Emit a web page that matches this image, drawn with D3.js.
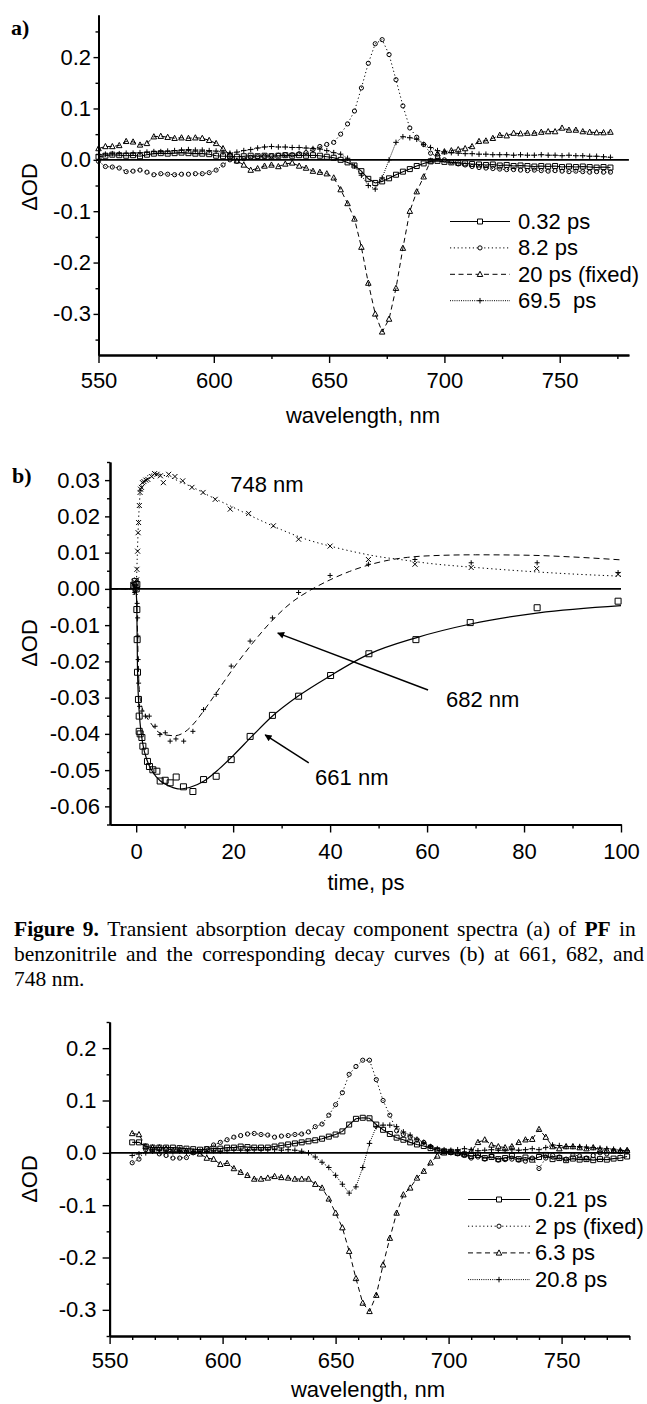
<!DOCTYPE html>
<html><head><meta charset="utf-8">
<script src="https://cdn.jsdelivr.net/npm/d3@7"></script>
<style>
body{margin:0;background:#fff}
svg{display:block;background:#fff}
</style></head><body>
<svg id="fig" width="647" height="1404"></svg>
<script>
// ---------- Panel a: decay-associated spectra of PF in benzonitrile ----------
const wlA = [550,553,556,559,562,565,568,571,574,577,
             580,583,586,589,592,595,598,601,604,607,
             610,613,616,619,622,625,628,631,634,637,
             640,643,646,649,652,655,658,661,664,667,
             670,673,676,679,682,685,688,691,694,697,
             700,703,706,709,712,715,718,721,724,727,
             730,733,736,739,742,745,748,751,754,757,
             760,763,766,769,772];
const a032 = [0.006,0.008,0.010,0.009,0.008,0.009,0.007,0.010,0.012,0.013,
              0.012,0.013,0.014,0.013,0.012,0.012,0.011,0.008,0.007,0.007,
              0.006,0.007,0.008,0.007,0.008,0.007,0.008,0.009,0.008,0.009,
              0.008,0.009,0.008,0.006,0.004,0.000,-0.005,-0.011,-0.022,-0.037,
              -0.045,-0.042,-0.036,-0.029,-0.023,-0.018,-0.012,-0.007,-0.003,-0.002,
              -0.004,-0.005,-0.006,-0.007,-0.008,-0.009,-0.010,-0.009,-0.011,-0.010,
              -0.012,-0.011,-0.012,-0.013,-0.012,-0.013,-0.012,-0.014,-0.013,-0.014,
              -0.013,-0.014,-0.015,-0.014,-0.015];
const a82 = [-0.003,-0.013,-0.014,-0.016,-0.023,-0.022,-0.020,-0.024,-0.029,-0.027,
             -0.028,-0.029,-0.028,-0.028,-0.027,-0.027,-0.025,-0.020,-0.010,0.000,
             -0.003,0.002,0.005,0.006,0.007,0.008,0.009,0.010,0.010,0.012,
             0.014,0.020,0.026,0.030,0.034,0.050,0.070,0.095,0.140,0.188,
             0.226,0.234,0.205,0.156,0.105,0.062,0.044,0.030,0.013,0.006,
             0.000,-0.004,-0.008,-0.010,-0.013,-0.015,-0.016,-0.017,-0.018,-0.019,
             -0.019,-0.020,-0.021,-0.020,-0.021,-0.022,-0.021,-0.022,-0.023,-0.022,
             -0.023,-0.024,-0.023,-0.024,-0.024];
const a20 = [0.022,0.026,0.026,0.028,0.036,0.035,0.029,0.032,0.045,0.046,
             0.044,0.042,0.043,0.042,0.043,0.042,0.038,0.032,0.022,0.010,
             -0.002,-0.010,-0.020,-0.017,-0.012,-0.010,-0.013,-0.008,-0.006,-0.012,
             -0.016,-0.022,-0.024,-0.027,-0.035,-0.058,-0.085,-0.115,-0.170,-0.240,
             -0.300,-0.335,-0.310,-0.250,-0.172,-0.100,-0.062,-0.033,-0.002,0.012,
             0.016,0.018,0.020,0.022,0.026,0.036,0.037,0.042,0.048,0.047,
             0.052,0.051,0.052,0.052,0.054,0.055,0.055,0.062,0.058,0.058,
             0.055,0.054,0.053,0.053,0.054];
const a695 = [0.010,0.011,0.012,0.012,0.013,0.013,0.014,0.015,0.016,0.016,
              0.017,0.018,0.019,0.020,0.019,0.019,0.018,0.017,0.015,0.013,
              0.015,0.018,0.020,0.023,0.025,0.026,0.025,0.025,0.024,0.024,
              0.023,0.022,0.021,0.018,0.014,0.011,0.003,-0.012,-0.030,-0.050,
              -0.057,-0.035,0.000,0.034,0.045,0.043,0.040,0.030,0.024,0.018,
              0.015,0.014,0.013,0.012,0.012,0.011,0.011,0.010,0.010,0.010,
              0.009,0.010,0.009,0.009,0.010,0.009,0.009,0.008,0.009,0.008,
              0.008,0.007,0.007,0.006,0.005];
const legendA = ["0.32 ps", "8.2 ps", "20 ps (fixed)", "69.5  ps"];

// ---------- Panel b: kinetic traces (points) and fits (lines) ----------
const pts661 = [[-0.5,0.001],[-0.2,0.002],[0,0.000],[0.14,0.0012],[0.14,-0.0057],[0.2,-0.014],
  [0.27,-0.023],[0.47,-0.0305],[0.62,-0.0351],[0.62,-0.0393],[0.82,-0.040],[1.18,-0.041],
  [1.38,-0.0434],[1.86,-0.0448],[2.33,-0.0476],[2.74,-0.049],[3.44,-0.0499],[4.27,-0.0503],
  [4.95,-0.053],[5.98,-0.0528],[7.0,-0.0535],[8.25,-0.0519],[9.75,-0.0546],[11.7,-0.0559],
  [13.9,-0.0526],[16.5,-0.0517],[19.6,-0.0471],[23.5,-0.0407],[28.1,-0.0349],[33.5,-0.0296],
  [40.1,-0.0239],[48.0,-0.0179],[57.7,-0.014],[68.9,-0.0093],[82.7,-0.0052],[99.4,-0.0034]];
const fit661 = [[-5,0],[-0.3,0],[0,-0.001],[0.14,-0.006],[0.27,-0.022],[0.5,-0.031],[0.8,-0.037],
  [1.4,-0.043],[2.3,-0.0475],[3.4,-0.0505],[5,-0.053],[7,-0.0545],[9,-0.0552],[11,-0.0548],
  [14,-0.053],[17,-0.0498],[20,-0.046],[24,-0.0405],[28,-0.0352],[33.5,-0.0295],[40,-0.024],
  [48,-0.018],[57.7,-0.0135],[69,-0.0097],[83,-0.0066],[100,-0.0046]];
const pts682 = [[-0.5,0.001],[-0.3,-0.001],[0,0.000],[0.2,-0.004],[0.3,-0.008],[0.35,-0.013],
  [0.4,-0.0195],[0.5,-0.026],[0.7,-0.0324],[1.2,-0.0337],[1.9,-0.0351],[2.7,-0.0351],
  [3.9,-0.0379],[4.9,-0.0402],[6.0,-0.0397],[7.0,-0.042],[8.2,-0.0414],[9.8,-0.042],
  [11.7,-0.0393],[13.9,-0.0333],[16.5,-0.0291],[19.6,-0.0213],[23.5,-0.0144],[28.1,-0.008],
  [33.5,-0.001],[40,0.0037],[47.9,0.0068],[57.5,0.0081],[69.1,0.0072],[82.7,0.0072],[99.4,0.0045]];
const fit682 = [[-5,0],[-0.3,0],[0,-0.001],[0.2,-0.008],[0.4,-0.019],[0.6,-0.027],[1,-0.0315],
  [2,-0.035],[3,-0.037],[4,-0.0388],[6,-0.0403],[8,-0.0405],[10,-0.0395],[12,-0.037],
  [14,-0.0335],[16,-0.0297],[18,-0.0258],[20,-0.022],[24,-0.015],[28,-0.0088],[32,-0.0038],
  [36,-0.0003],[40,0.0025],[44,0.0048],[48,0.0066],[52,0.0079],[56,0.0087],[60,0.0091],
  [70,0.0094],[80,0.0093],[90,0.0088],[100,0.008]];
const pts748 = [[-0.6,0.001],[-0.4,0.002],[-0.2,-0.001],[0,0.0005],[0.1,0.0025],[0.15,0.0054],
  [0.3,0.0104],[0.4,0.0155],[0.5,0.0183],[0.65,0.023],[0.8,0.0266],[0.9,0.0275],[1.1,0.028],
  [1.3,0.0293],[1.6,0.0296],[2.0,0.030],[2.4,0.0302],[3.2,0.031],[3.8,0.0318],[4.3,0.0316],
  [5.0,0.0312],[5.6,0.0293],[6.7,0.0316],[8.0,0.031],[9.6,0.0298],[11.5,0.028],[13.8,0.0266],
  [16.3,0.0247],[19.4,0.022],[23.2,0.0208],[28.3,0.0174],[33.5,0.0137],[40,0.0118],
  [47.9,0.0081],[57.5,0.0068],[69.1,0.0059],[82.6,0.0056],[99.4,0.004]];
const fit748 = [[-5,0],[-0.5,0],[0,0.001],[0.2,0.008],[0.4,0.016],[0.6,0.022],[0.8,0.026],
  [1.2,0.029],[2,0.0308],[3,0.0316],[4,0.0318],[6,0.0312],[8,0.0302],[10,0.029],[12,0.0278],
  [15,0.0257],[20,0.0225],[25,0.0193],[30,0.0163],[35,0.0137],[40,0.0118],[45,0.0102],
  [50,0.0089],[55,0.008],[60,0.0071],[70,0.0059],[80,0.0049],[90,0.0041],[100,0.0035]];
// annotation anchors in data units: [text position, arrow tail, arrow head]
const labelsB = [
  {text:"748 nm", at:[19.4,0.0266]},
  {text:"682 nm", at:[63.9,-0.0326], tail:[60.2,-0.0279], head:[29.2,-0.0122]},
  {text:"661 nm", at:[36.9,-0.0542], tail:[35.6,-0.048], head:[26.6,-0.0403]}
];

// ---------- Panel c: decay-associated spectra, second data set ----------
const wlC = [560,563,566,569,572,575,578,581,584,587,
             590,593,596,599,602,605,608,611,614,617,
             620,623,626,629,632,635,638,641,644,647,
             650,653,656,659,662,665,668,671,674,677,
             680,683,686,689,692,695,698,701,704,707,
             710,713,716,719,722,725,728,731,734,737,
             740,743,746,749,752,755,758,761,764,767,
             770,773,776,779];
const c021 = [0.020,0.020,0.012,0.010,0.010,0.010,0.010,0.009,0.008,0.007,
              0.006,0.007,0.008,0.008,0.010,0.010,0.012,0.011,0.010,0.010,
              0.010,0.012,0.014,0.016,0.018,0.020,0.022,0.024,0.027,0.031,
              0.035,0.041,0.054,0.065,0.067,0.066,0.054,0.044,0.036,0.029,
              0.025,0.020,0.016,0.013,0.009,0.005,0.003,0.002,0.000,-0.003,
              -0.006,-0.004,-0.010,-0.008,-0.012,-0.010,-0.006,-0.012,-0.009,-0.013,
              -0.008,-0.004,-0.012,-0.010,-0.014,-0.011,-0.013,-0.012,-0.014,-0.012,
              -0.013,-0.011,-0.010,-0.007];
const c2 = [-0.019,-0.012,0.006,0.004,-0.002,-0.005,-0.010,-0.010,-0.009,0.000,
            0.003,0.008,0.015,0.020,0.025,0.030,0.033,0.036,0.037,0.035,
            0.034,0.030,0.032,0.033,0.035,0.036,0.040,0.050,0.055,0.072,
            0.092,0.115,0.150,0.165,0.177,0.177,0.140,0.100,0.072,0.042,
            0.035,0.030,0.025,0.020,0.012,0.005,0.002,0.000,-0.002,-0.005,
            -0.010,-0.008,-0.012,-0.006,-0.014,-0.013,-0.012,-0.014,-0.016,-0.010,
            -0.030,-0.010,-0.005,-0.008,-0.012,-0.004,-0.006,-0.010,-0.005,0.000,
            -0.002,0.004,0.002,0.003];
const c63 = [0.037,0.035,0.012,0.010,0.010,0.008,0.005,0.006,0.004,0.002,
             -0.002,-0.010,-0.012,-0.022,-0.020,-0.030,-0.037,-0.043,-0.050,-0.050,
             -0.048,-0.045,-0.047,-0.048,-0.050,-0.050,-0.050,-0.060,-0.067,-0.088,
             -0.115,-0.143,-0.188,-0.240,-0.287,-0.303,-0.272,-0.214,-0.163,-0.115,
             -0.080,-0.067,-0.048,-0.035,-0.019,-0.006,0.000,0.002,0.000,-0.002,
             0.003,0.020,0.025,0.015,0.012,0.010,0.012,0.020,0.025,0.026,
             0.045,0.030,0.012,0.008,0.012,0.012,0.010,0.008,0.010,0.006,
             0.005,0.004,0.004,0.005];
const c208 = [-0.005,-0.002,0.000,0.003,0.004,0.003,0.002,0.003,0.001,0.002,
              0.003,0.002,0.004,0.003,0.004,0.005,0.005,0.004,0.006,0.005,
              0.006,0.006,0.005,0.006,0.005,0.003,0.000,-0.008,-0.018,-0.028,
              -0.043,-0.060,-0.077,-0.065,-0.028,0.018,0.050,0.053,0.053,0.050,
              0.040,0.034,0.026,0.020,0.012,0.008,0.006,0.005,0.006,0.008,
              0.006,0.004,0.005,0.006,0.005,0.004,0.006,0.005,0.006,0.008,
              0.006,0.010,0.015,0.014,0.012,0.012,0.012,0.011,0.010,0.009,
              0.008,0.007,0.005,0.004];
const legendC = ["0.21 ps", "2 ps (fixed)", "6.3 ps", "20.8 ps"];

// tick values
const wlMajor = [550,600,650,700,750];
const wlMinorA = [575,625,675,725,775];
const wlMinorC = [560,570,580,590,610,620,630,640,660,670,680,690,710,720,730,740,760,770,780];
const odMajor = [-0.3,-0.2,-0.1,0.0,0.1,0.2];
const odMinorA = [-0.35,-0.25,-0.15,-0.05,0.05,0.15,0.25];
const odMinorC = [-0.35,-0.25,-0.15,-0.05,0.05,0.15,0.25];
const tMajor = [0,20,40,60,80,100];
const tMinor = [10,30,50,70,90];
const bMajor = [-0.06,-0.05,-0.04,-0.03,-0.02,-0.01,0.00,0.01,0.02,0.03];
const bMinor = [-0.065,-0.055,-0.045,-0.035,-0.025,-0.015,-0.005,0.005,0.015,0.025,0.035];

const caption = [
  [{t:"Figure",b:1},{t:"9.",b:1},{t:""},{t:"Transient"},{t:"absorption"},{t:"decay"},{t:"component"},
   {t:"spectra"},{t:"(a)"},{t:"of"},{t:"PF",b:1},{t:"in"}],
  [{t:"benzonitrile"},{t:"and"},{t:"the"},{t:"corresponding"},{t:"decay"},{t:"curves"},{t:"(b)"},
   {t:"at"},{t:"661,"},{t:"682,"},{t:"and"}],
  [{t:"748"},{t:"nm."}]
];

// ---------- drawing ----------
const SANS = "'Liberation Sans', Arial, Helvetica, sans-serif";
const SERIF = "'Liberation Serif', 'Times New Roman', serif";
const svg = d3.select("#fig");

const fmt = dp => d => (Math.abs(d) < 1e-9 ? (0).toFixed(dp) : (d < 0 ? "-" : "") + Math.abs(d).toFixed(dp));

function markerPath(type, size) {
  const s = size / 2;
  switch (type) {
    case "square": return `M${-s},${-s}h${size}v${size}h${-size}Z`;
    case "circle": return `M${s},0A${s},${s} 0 1,1 ${-s},0A${s},${s} 0 1,1 ${s},0Z`;
    case "triangle": return `M0,${-s * 1.1}L${s},${s * 0.8}L${-s},${s * 0.8}Z`;
    case "plus": return `M${-s},0H${s}M0,${-s}V${s}`;
    case "x": return `M${-s},${-s}L${s},${s}M${-s},${s}L${s},${-s}`;
  }
}

function drawAxes(g, x, y, o) {
  const yb = y.range()[0];
  const xl = x.range()[0];
  const styleAxis = sel => {
    sel.select(".domain").attr("stroke", "#000").attr("stroke-width", 2);
    sel.selectAll(".tick line").attr("stroke", "#000").attr("stroke-width", 1.4);
    sel.selectAll("text").attr("fill", "#000");
    sel.attr("font-family", SANS).attr("font-size", o.fs);
  };
  g.append("g").attr("transform", `translate(0,${yb})`)
    .call(d3.axisBottom(x).tickValues(o.xMinor).tickSize(4).tickSizeOuter(0).tickFormat(""))
    .call(styleAxis);
  g.append("g").attr("transform", `translate(0,${yb})`)
    .call(d3.axisBottom(x).tickValues(o.xMajor).tickSize(8).tickPadding(o.xPad).tickSizeOuter(0).tickFormat(d => d))
    .call(styleAxis);
  g.append("g").attr("transform", `translate(${xl},0)`)
    .call(d3.axisLeft(y).tickValues(o.yMinor).tickSize(3).tickSizeOuter(0).tickFormat(""))
    .call(styleAxis);
  g.append("g").attr("transform", `translate(${xl},0)`)
    .call(d3.axisLeft(y).tickValues(o.yMajor).tickSize(o.yTick).tickPadding(o.yPad).tickSizeOuter(0).tickFormat(fmt(o.dp)))
    .call(styleAxis);
  // zero reference line
  g.append("line").attr("x1", xl).attr("x2", x.range()[1])
    .attr("y1", y(0)).attr("y2", y(0)).attr("stroke", "#000").attr("stroke-width", 1.6);
  // axis titles
  g.append("text").attr("x", o.xTitle[0]).attr("y", o.xTitle[1]).attr("text-anchor", "middle")
    .attr("font-family", SANS).attr("font-size", o.fs).text(o.xLabel);
  g.append("text").attr("transform", `translate(${o.yTitle[0]},${o.yTitle[1]}) rotate(-90)`)
    .attr("text-anchor", "middle").attr("font-family", SANS).attr("font-size", o.fs).text("ΔOD");
}

function drawSeries(g, x, y, pts, s, curve) {
  g.append("path").datum(pts)
    .attr("d", d3.line().x(d => x(d[0])).y(d => y(d[1])).curve(curve || d3.curveLinear))
    .attr("fill", "none").attr("stroke", "#000").attr("stroke-width", s.lw || 1)
    .attr("stroke-dasharray", s.dash || null);
}
function drawMarkers(g, x, y, pts, type, size) {
  g.append("g").selectAll("path").data(pts).join("path")
    .attr("transform", d => `translate(${x(d[0])},${y(d[1])})`)
    .attr("d", markerPath(type, size))
    .attr("fill", "none").attr("stroke", "#000").attr("stroke-width", 1);
}
function drawLegend(g, items, styles, o) {
  items.forEach((label, i) => {
    const by = o.y0 + i * o.dy;
    const ly = by - 7.5;
    g.append("line").attr("x1", o.x1).attr("x2", o.x2).attr("y1", ly).attr("y2", ly)
      .attr("stroke", "#000").attr("stroke-width", styles[i].lw || 1)
      .attr("stroke-dasharray", styles[i].dash || null);
    g.append("path").attr("transform", `translate(${(o.x1 + o.x2) / 2},${ly})`)
      .attr("d", markerPath(styles[i].m, styles[i].ms)).attr("fill", "#fff")
      .attr("stroke", "#000").attr("stroke-width", 1);
    g.append("text").attr("x", o.tx).attr("y", by).attr("font-family", SANS)
      .attr("font-size", o.fs).style("white-space", "pre").text(label);
  });
}

const styleSpec = [
  {m: "square", ms: 5, lw: 1.1},
  {m: "circle", ms: 4.2, dash: "1.2,2.6"},
  {m: "triangle", ms: 5.5, dash: "5,3.5"},
  {m: "plus", ms: 5.5, dash: "1,1.2"}
];

// ----- panel a -----
{
  const g = svg.append("g");
  const x = d3.scaleLinear().domain([550, 780]).range([98.5, 628.9]);
  const y = d3.scaleLinear().domain([-0.38, 0.282]).range([355, 15]);
  drawAxes(g, x, y, {xMajor: wlMajor, xMinor: wlMinorA, yMajor: odMajor, yMinor: odMinorA,
    dp: 1, fs: 22, xPad: 9, yTick: 5, yPad: 2.5, xLabel: "wavelength, nm",
    xTitle: [363, 423], yTitle: [37, 187]});
  [a032, a82, a20, a695].forEach((vals, k) => {
    const pts = wlA.map((w, i) => [w, vals[i]]);
    drawSeries(g, x, y, pts, styleSpec[k]);
    drawMarkers(g, x, y, pts, styleSpec[k].m, styleSpec[k].ms);
  });
  drawLegend(g, legendA, styleSpec, {x1: 450, x2: 510, tx: 518, y0: 229, dy: 26.4, fs: 22});
  g.append("text").attr("x", 11).attr("y", 35).attr("font-family", SERIF)
    .attr("font-weight", "bold").attr("font-size", 22).text("a)");
}

// ----- panel b -----
{
  const g = svg.append("g");
  const x = d3.scaleLinear().domain([-5.4, 100]).range([110, 621]);
  const y = d3.scaleLinear().domain([-0.065, 0.035]).range([824.5, 462]);
  drawAxes(g, x, y, {xMajor: tMajor, xMinor: tMinor, yMajor: bMajor, yMinor: bMinor,
    dp: 2, fs: 22, xPad: 10.5, yTick: 5, yPad: 5, xLabel: "time, ps",
    xTitle: [366, 890], yTitle: [37, 643]});
  drawSeries(g, x, y, fit748, {dash: "1.3,3"}, d3.curveMonotoneX);
  drawSeries(g, x, y, fit682, {dash: "6,4"}, d3.curveMonotoneX);
  drawSeries(g, x, y, fit661, {lw: 1.2}, d3.curveMonotoneX);
  drawMarkers(g, x, y, pts748, "x", 5);
  drawMarkers(g, x, y, pts682, "plus", 5);
  drawMarkers(g, x, y, pts661, "square", 6);
  const defs = svg.append("defs");
  defs.append("marker").attr("id", "ah").attr("viewBox", "0 0 10 10").attr("refX", 9).attr("refY", 5)
    .attr("markerWidth", 9).attr("markerHeight", 7).attr("markerUnits", "userSpaceOnUse")
    .attr("orient", "auto").append("path").attr("d", "M0,0L10,5L0,10Z").attr("fill", "#000");
  labelsB.forEach(l => {
    g.append("text").attr("x", x(l.at[0])).attr("y", y(l.at[1])).attr("font-family", SANS)
      .attr("font-size", 22).text(l.text);
    if (l.tail) {
      g.append("line").attr("x1", x(l.tail[0])).attr("y1", y(l.tail[1]))
        .attr("x2", x(l.head[0])).attr("y2", y(l.head[1]))
        .attr("stroke", "#000").attr("stroke-width", 1.5).attr("marker-end", "url(#ah)");
    }
  });
  g.append("text").attr("x", 12).attr("y", 483).attr("font-family", SERIF)
    .attr("font-weight", "bold").attr("font-size", 22).text("b)");
}

// ----- caption -----
{
  const g = svg.append("g").attr("font-family", SERIF).attr("font-size", 21.5);
  const left = 14, right = 644, base0 = 936, lead = 25;
  caption.forEach((words, li) => {
    const yb = base0 + li * lead;
    const nodes = words.map(w => g.append("text").attr("y", yb)
      .attr("font-weight", w.b ? "bold" : "normal").text(w.t));
    const widths = nodes.map(n => n.node().getComputedTextLength());
    const total = d3.sum(widths);
    const justify = li < caption.length - 1;
    const gap = justify ? (right - left - total) / (words.length - 1) : 5.4;
    let cx = left;
    nodes.forEach((n, i) => { n.attr("x", cx); cx += widths[i] + (words[i].t === "" ? 0 : gap); });
  });
}

// ----- panel c -----
{
  const g = svg.append("g");
  const x = d3.scaleLinear().domain([550, 780]).range([109.6, 629.4]);
  const y = d3.scaleLinear().domain([-0.35, 0.25]).range([1336, 1022]);
  drawAxes(g, x, y, {xMajor: wlMajor, xMinor: wlMinorC, yMajor: odMajor, yMinor: odMinorC,
    dp: 1, fs: 22, xPad: 8, yTick: 7, yPad: 6, xLabel: "wavelength, nm",
    xTitle: [368, 1397], yTitle: [37, 1179]});
  [c021, c2, c63, c208].forEach((vals, k) => {
    const pts = wlC.map((w, i) => [w, vals[i]]);
    drawSeries(g, x, y, pts, styleSpec[k]);
    drawMarkers(g, x, y, pts, styleSpec[k].m, styleSpec[k].ms);
  });
  drawLegend(g, legendC, styleSpec, {x1: 468, x2: 530, tx: 535, y0: 1207, dy: 26.7, fs: 22});
}
</script>
</body></html>
